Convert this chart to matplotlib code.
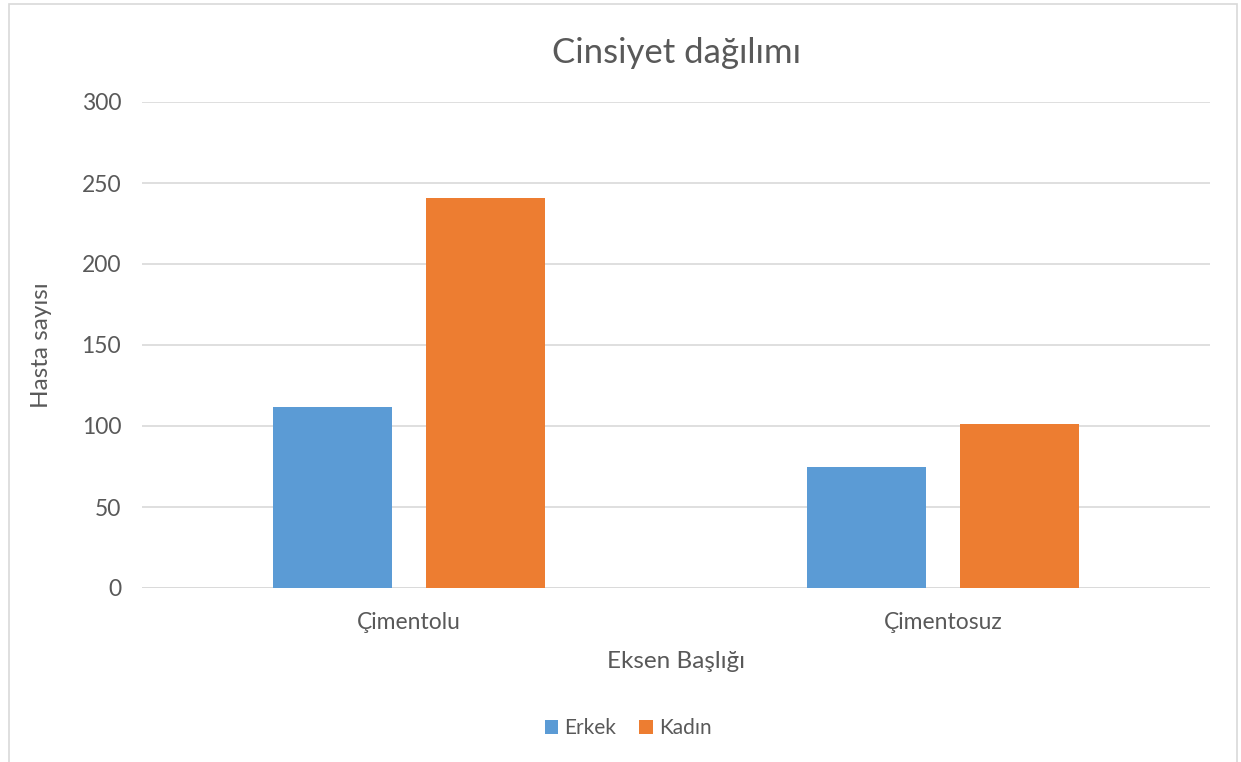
import matplotlib
matplotlib.use('Agg')
import matplotlib.pyplot as plt
from matplotlib.patches import Rectangle

categories = ['Çimentolu', 'Çimentosuz']
series_names = ['Erkek', 'Kadın']
erkek_values = [112, 75]
kadin_values = [241, 101]
y_ticks = [0, 50, 100, 150, 200, 250, 300]

colors = ['#5B9BD5', '#ED7D31']
text_color = '#595959'
grid_color = '#D9D9D9'

plt.rcParams['font.family'] = ['Lato', 'DejaVu Sans']

fig = plt.figure(figsize=(12.41, 7.62), dpi=100)
ax = fig.add_axes([142 / 1241, 1 - 588 / 762, 1068 / 1241, 486 / 762])

# chart area border (bottom runs off the canvas)
fig.patches.append(Rectangle((8.5 / 1241, -0.05), (1237 - 8.5) / 1241, 1.05 - 3.5 / 762,
                             transform=fig.transFigure, fill=False,
                             edgecolor=grid_color, linewidth=1.2))

bar_width = 0.223
offset = 0.1425
x = list(range(len(categories)))
ax.bar([i - offset for i in x], erkek_values, bar_width, color=colors[0], label=series_names[0], zorder=3)
ax.bar([i + offset for i in x], kadin_values, bar_width, color=colors[1], label=series_names[1], zorder=3)

ax.set_xlim(-0.5, 1.5)
ax.set_ylim(0, 300)
ax.set_yticks(y_ticks)
ax.set_xticks(x)
ax.set_xticklabels(categories)
ax.tick_params(axis='both', length=0, labelsize=16.5, colors=text_color)
ax.tick_params(axis='y', pad=15)
ax.tick_params(axis='x', pad=17)
ax.yaxis.grid(True, color=grid_color, linewidth=1.2, zorder=0)
for spine in ax.spines.values():
    spine.set_visible(False)
ax.axhline(0, color=grid_color, linewidth=1.2, zorder=2)

ax.set_title('Cinsiyet dağılımı', fontsize=25, color=text_color, pad=28)
ax.set_xlabel('Eksen Başlığı', fontsize=17.5, color=text_color, labelpad=13)
ax.set_ylabel('Hasta sayısı', fontsize=17.5, color=text_color, labelpad=21)

fig.legend(loc='center', bbox_to_anchor=(628 / 1241, 1 - 728 / 762), ncol=2, frameon=False,
           fontsize=15, labelcolor=text_color, handlelength=0.65, handleheight=0.65,
           handletextpad=0.3, columnspacing=1.1)

fig.savefig('out.png', dpi=100, facecolor='white')
